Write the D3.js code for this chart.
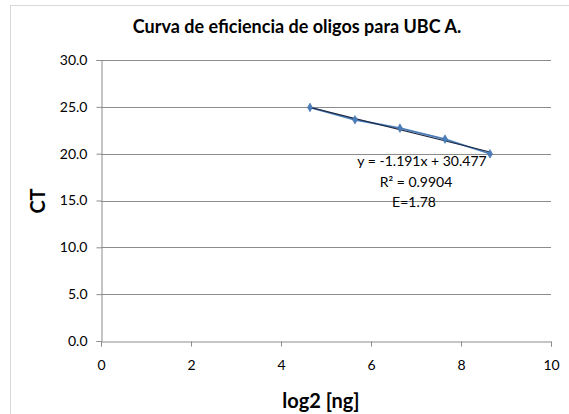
<!DOCTYPE html>
<html>
<head>
<meta charset="utf-8">
<script src="https://cdn.jsdelivr.net/npm/d3@7"></script>
<style>
  html, body { margin: 0; padding: 0; background: #fff; }
  svg { display: block; }
  text { font-family: Lato, "Open Sans", sans-serif; fill: #000; }
</style>
</head>
<body>
<svg id="chart" width="569" height="414"></svg>
<script>
// Standard curve: log2 of template amount vs. threshold cycle
const log2ng = [4.644, 5.644, 6.644, 7.644, 8.644];
const ct = [24.93, 23.62, 22.72, 21.56, 19.99];

// Linear fit reported on the chart
const slope = -1.191;
const intercept = 30.477;
const fitLabels = ["y = -1.191x + 30.477", "R² = 0.9904", "E=1.78"];

const xTicks = [0, 2, 4, 6, 8, 10];
const yTicks = [0, 5, 10, 15, 20, 25, 30];

const title = "Curva de eficiencia de oligos para UBC A.";
const xTitle = "log2 [ng]";
const yTitle = "CT";

const svg = d3.select("#chart");
const plot = { left: 101, right: 551, top: 60, bottom: 341 };

const x = d3.scaleLinear().domain([0, 10]).range([plot.left, plot.right]);
const y = d3.scaleLinear().domain([0, 30]).range([plot.bottom, plot.top]);

// chart frame
svg.append("rect")
  .attr("x", 10.5).attr("y", 5.5)
  .attr("width", 570).attr("height", 420)
  .attr("fill", "none").attr("stroke", "#d9d9d9").attr("stroke-width", 1);

// horizontal gridlines
svg.append("g")
  .selectAll("line")
  .data(yTicks.filter(d => d > 0))
  .join("line")
  .attr("x1", plot.left).attr("x2", plot.right)
  .attr("y1", d => Math.round(y(d)) + 0.5).attr("y2", d => Math.round(y(d)) + 0.5)
  .attr("stroke", "#8c8c8c").attr("stroke-width", 1);

// y axis
const yAxis = svg.append("g")
  .attr("transform", `translate(${plot.left + 0.5},0)`)
  .call(d3.axisLeft(y).tickValues(yTicks).tickFormat(d3.format(".1f")).tickSize(5).tickPadding(9));
yAxis.select(".domain").attr("stroke", "#8c8c8c");
yAxis.selectAll(".tick line").attr("stroke", "#8c8c8c");
yAxis.selectAll(".tick text").attr("font-size", 14).attr("font-family", "Lato, sans-serif").attr("fill", "#000");

// x axis
const xAxis = svg.append("g")
  .attr("transform", `translate(0,${plot.bottom + 0.5})`)
  .call(d3.axisBottom(x).tickValues(xTicks).tickFormat(d3.format("d")).tickSize(5).tickPadding(14));
xAxis.select(".domain").attr("stroke", "#8c8c8c");
xAxis.selectAll(".tick line").attr("stroke", "#8c8c8c");
xAxis.selectAll(".tick text").attr("font-size", 14).attr("font-family", "Lato, sans-serif").attr("fill", "#000");

// data series line
const pts = log2ng.map((v, i) => [v, ct[i]]);
svg.append("path")
  .datum(pts)
  .attr("fill", "none")
  .attr("stroke", "#4a7ebb")
  .attr("stroke-width", 1.8)
  .attr("d", d3.line().x(d => x(d[0])).y(d => y(d[1])));

// linear trendline
const xr = d3.extent(log2ng);
svg.append("line")
  .attr("x1", x(xr[0])).attr("y1", y(slope * xr[0] + intercept))
  .attr("x2", x(xr[1])).attr("y2", y(slope * xr[1] + intercept))
  .attr("stroke", "#1f2a44").attr("stroke-width", 1.2);

// diamond markers
svg.append("g")
  .selectAll("path")
  .data(pts)
  .join("path")
  .attr("transform", d => `translate(${x(d[0])},${y(d[1])})`)
  .attr("d", d3.symbol(d3.symbolDiamond, 22))
  .attr("fill", "#4a7ebb")
  .attr("stroke", "#3b6aa0").attr("stroke-width", 0.5);

// fit annotation
const fitPos = [[422, 166], [416, 187], [414, 207]];
svg.append("g")
  .selectAll("text")
  .data(fitLabels)
  .join("text")
  .attr("x", (d, i) => fitPos[i][0])
  .attr("y", (d, i) => fitPos[i][1])
  .attr("text-anchor", "middle")
  .attr("font-size", 14)
  .text(d => d);

// titles
svg.append("text")
  .attr("x", 297).attr("y", 33)
  .attr("text-anchor", "middle")
  .attr("font-size", 18).attr("font-weight", "bold")
  .text(title);

svg.append("text")
  .attr("x", 321).attr("y", 408)
  .attr("text-anchor", "middle")
  .attr("font-size", 20).attr("font-weight", "bold")
  .text(xTitle);

svg.append("text")
  .attr("transform", "translate(45,201) rotate(-90)")
  .attr("text-anchor", "middle")
  .attr("font-size", 20).attr("font-weight", "bold")
  .text(yTitle);
</script>
</body>
</html>
